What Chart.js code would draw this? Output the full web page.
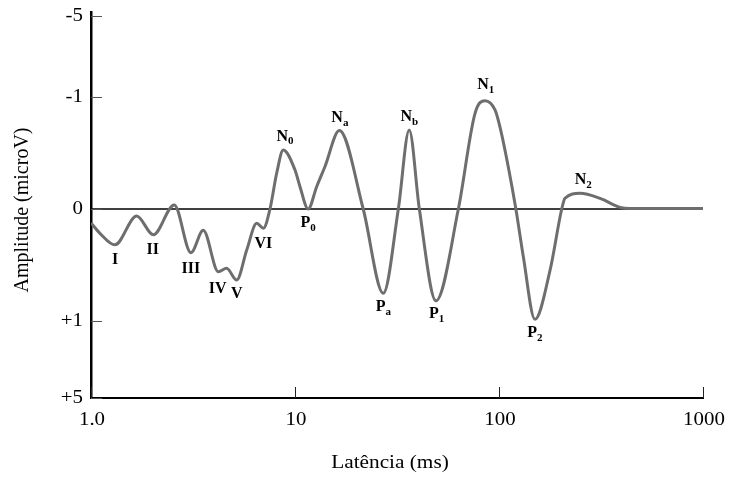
<!DOCTYPE html>
<html>
<head>
<meta charset="utf-8">
<script src="https://cdn.jsdelivr.net/npm/chart.js@4.4.1/dist/chart.umd.min.js"></script>
<style>
  html, body { margin: 0; padding: 0; background: #fff; }
</style>
</head>
<body>
<canvas id="aepChart" width="743" height="477"></canvas>
<script>
// --------------------------------------------------- DATA
// latency in ms (log axis), amplitude in microV (negative drawn upward)
const latency = [1.0, 1.106, 1.31, 1.675, 2.02, 2.56, 3.09, 3.55, 4.21, 4.62,
  5.18, 5.8, 6.49, 7.0, 7.54, 8.13, 8.76, 10.0, 10.58, 11.6,
  12.77, 14.0, 16.5, 21.6, 27.1, 32.1, 36.3, 40.7, 49.1, 63.2, 76.3,
  85.4, 95.6, 101, 111, 121, 131.6, 150, 178, 203, 210.6,
  249, 313, 392, 439, 1000]
const amplitude = [0.125, 0.217, 0.32, 0.0625, 0.23, -0.036, 0.39, 0.19, 0.56, 0.53,
  0.634, 0.366, 0.128, 0.172, 0, -0.319, -0.527, -0.348, -0.199, 0,
  -0.199, -0.375, -0.70, 0, 0.753, 0, -0.705, 0, 0.82, 0, -0.854,
  -0.967, -0.884, -0.735, -0.378, 0, 0.426, 0.985, 0.545, 0, -0.096,
  -0.14, -0.095, -0.015, -0.005, -0.005]

const xTickValues = [1, 10, 100, 1000]
const xTickLabels = ['1.0', '10', '100', '1000']
// the axis is compressed beyond +-1, so -5 and +5 sit at the ends
const yTickValues = [-1.723, -1, 0, 1, 1.6875]
const yTickLabels = ['-5', '-1', '0', '+1', '+5']

const peakNames = ['I', 'II', 'III', 'IV', 'V', 'VI', 'N', 'P', 'N', 'P', 'N', 'P', 'N', 'P', 'N']
const peakSubs = ['', '', '', '', '', '', '0', '0', 'a', 'a', 'b', '1', '1', '2', '2']
const peakLatency = [1.311, 2.006, 3.09, 4.18, 5.18, 7.0, 8.93, 11.6, 16.6, 27.1, 36.3, 49.5, 86.1, 150, 259]
const peakAmplitude = [0.455, 0.366, 0.536, 0.717, 0.759, 0.3125, -0.646, 0.128, -0.81, 0.872, -0.824, 0.9375, -1.107, 1.11, -0.259]

// --------------------------------------------------- HELPERS
const serif = "'Liberation Serif', 'Times New Roman', serif"

function drawText(ctx, text, x, y, font, align, sx) {
  ctx.save()
  ctx.translate(x, y)
  ctx.scale(sx, 1)
  ctx.font = font
  ctx.textAlign = align
  ctx.textBaseline = 'middle'
  ctx.fillText(text, 0, 0)
  ctx.restore()
}

const textPlugin = {
  id: 'aepText',
  afterDraw(chart) {
    const ctx = chart.ctx
    const xs = chart.scales.x
    const ys = chart.scales.y
    ctx.save()

    // tick marks point into the plot
    ctx.strokeStyle = '#555'
    ctx.lineWidth = 1
    ys.ticks.forEach(t => {
      const py = Math.round(ys.getPixelForValue(t.value)) + 0.5
      ctx.beginPath()
      ctx.moveTo(xs.left, py)
      ctx.lineTo(xs.left + 11, py)
      ctx.stroke()
    })
    ctx.strokeStyle = '#222'
    xs.ticks.forEach(t => {
      const px = Math.round(xs.getPixelForValue(t.value)) + 0.5
      ctx.beginPath()
      ctx.moveTo(px, ys.bottom)
      ctx.lineTo(px, ys.bottom - 11)
      ctx.stroke()
    })

    ctx.fillStyle = '#000'
    ys.ticks.forEach((t, i) => {
      drawText(ctx, yTickLabels[i], xs.left - 8, ys.getPixelForValue(t.value), '19px ' + serif, 'right', 1.1)
    })
    xs.ticks.forEach((t, i) => {
      drawText(ctx, xTickLabels[i], xs.getPixelForValue(t.value) + 1, ys.bottom + 22, '19px ' + serif, 'center', 1.1)
    })

    // axis titles
    drawText(ctx, 'Latência (ms)', 390, 463, '19px ' + serif, 'center', 1.12)
    ctx.save()
    ctx.translate(23, 210)
    ctx.rotate(-Math.PI / 2)
    ctx.font = '20px ' + serif
    ctx.textAlign = 'center'
    ctx.textBaseline = 'middle'
    ctx.fillText('Amplitude (microV)', 0, 0)
    ctx.restore()

    // peak labels with subscripts
    peakNames.forEach((name, i) => {
      const cx = xs.getPixelForValue(peakLatency[i])
      const cy = ys.getPixelForValue(peakAmplitude[i])
      ctx.font = 'bold 16px ' + serif
      const wMain = ctx.measureText(name).width
      ctx.font = 'bold 11px ' + serif
      const wSub = peakSubs[i] ? ctx.measureText(peakSubs[i]).width : 0
      const left = cx - (wMain + wSub) / 2
      ctx.textAlign = 'left'
      ctx.textBaseline = 'middle'
      ctx.font = 'bold 16px ' + serif
      ctx.fillText(name, left, cy)
      if (peakSubs[i]) {
        ctx.font = 'bold 11px ' + serif
        ctx.fillText(peakSubs[i], left + wMain, cy + 5)
      }
    })
    ctx.restore()
  }
}

// --------------------------------------------------- CHART
const aepChart = new Chart(document.getElementById('aepChart'), {
  type: 'line',
  data: {
    datasets: [{
      data: latency.map((x, i) => ({ x: x, y: amplitude[i] })),
      borderColor: '#6e6e6e',
      borderWidth: 3,
      pointRadius: 0,
      cubicInterpolationMode: 'monotone',
      order: 1
    },
    {
      data: [{ x: xTickValues[0], y: 0 }, { x: xTickValues[3], y: 0 }],
      borderColor: '#000',
      borderWidth: 1.5,
      pointRadius: 0,
      order: 2
    }]
  },
  options: {
    responsive: false,
    animation: false,
    devicePixelRatio: 1,
    layout: { padding: { left: 0, top: 12, right: 40, bottom: 0 } },
    plugins: { legend: { display: false }, tooltip: { enabled: false } },
    scales: {
      x: {
        type: 'logarithmic',
        min: 1,
        max: 1000,
        afterBuildTicks: scale => { scale.ticks = xTickValues.map(v => ({ value: v })) },
        afterFit: scale => { scale.height = 79 },
        ticks: { display: false },
        grid: { display: false },
        border: { display: true, color: '#000', width: 2 }
      },
      y: {
        type: 'linear',
        reverse: true,
        min: -1.759,
        max: 1.6875,
        afterBuildTicks: scale => { scale.ticks = yTickValues.map(v => ({ value: v })) },
        afterFit: scale => { scale.width = 91 },
        ticks: { display: false },
        grid: { display: false },
        border: { display: true, color: '#000', width: 2.5 }
      }
    }
  },
  plugins: [textPlugin]
})
</script>
</body>
</html>
